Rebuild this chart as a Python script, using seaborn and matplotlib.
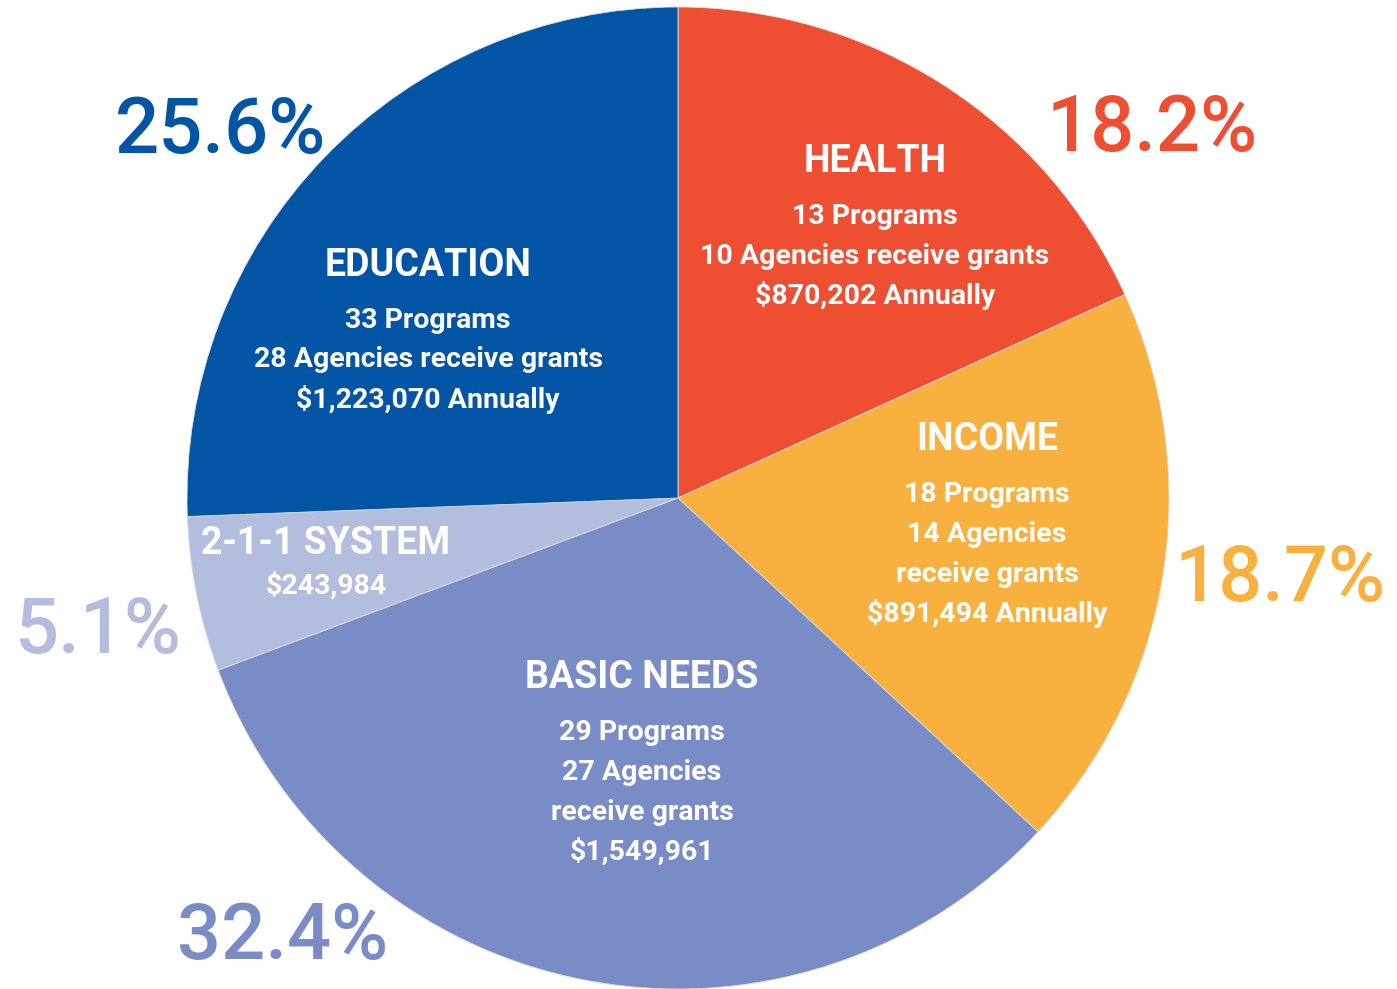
import matplotlib.pyplot as plt
import seaborn as sns

categories = ["HEALTH", "INCOME", "BASIC NEEDS", "2-1-1 SYSTEM", "EDUCATION"]
shares = [18.2, 18.7, 32.4, 5.1, 25.6]
details = [
    ["13 Programs", "10 Agencies receive grants", "$870,202 Annually"],
    ["18 Programs", "14 Agencies", "receive grants", "$891,494 Annually"],
    ["29 Programs", "27 Agencies", "receive grants", "$1,549,961"],
    ["$243,984"],
    ["33 Programs", "28 Agencies receive grants", "$1,223,070 Annually"],
]
colors = ["#EE4F32", "#F8B13F", "#798CC6", "#B3BEDF", "#0254A4"]

sns.set_theme(style="white")
plt.rcParams["font.family"] = ["Roboto", "DejaVu Sans"]

W, H = 1397, 989
fig = plt.figure(figsize=(W / 100, H / 100), dpi=100)
ax = fig.add_axes([0, 0, 1, 1])

cx, cy, r = 678, H - 498, 491
ax.pie(shares, colors=colors, startangle=90, counterclock=False,
       radius=r, center=(cx, cy),
       wedgeprops=dict(linewidth=0.6, edgecolor="#dddddd"))
ax.set_xlim(0, W)
ax.set_ylim(0, H)
ax.set_aspect("equal")
ax.axis("off")

# label layout (pixel positions from top-left)
title_pos = [(875, 162), (987, 440), (642, 678), (326, 543), (428, 265)]
pct_pos = [(1152, 129), (1280, 580), (283, 937), (98, 632), (220, 132)]
line_gap = 39.5

for i, cat in enumerate(categories):
    tx, ty = title_pos[i]
    ax.text(tx, H - ty, cat, color="white", fontsize=27, ha="center",
            va="center", fontweight="bold")
    for j, line in enumerate(details[i]):
        yy = ty + 55 + j * line_gap if i != 3 else ty + 43
        ax.text(tx, H - yy, line, color="white", fontsize=20.5,
                fontweight="bold", ha="center", va="center")
    px, py = pct_pos[i]
    ax.text(px, H - py, f"{shares[i]}%", color=colors[i], fontsize=56,
            fontweight="medium", ha="center", va="center")

fig.savefig("out.png", dpi=100)
